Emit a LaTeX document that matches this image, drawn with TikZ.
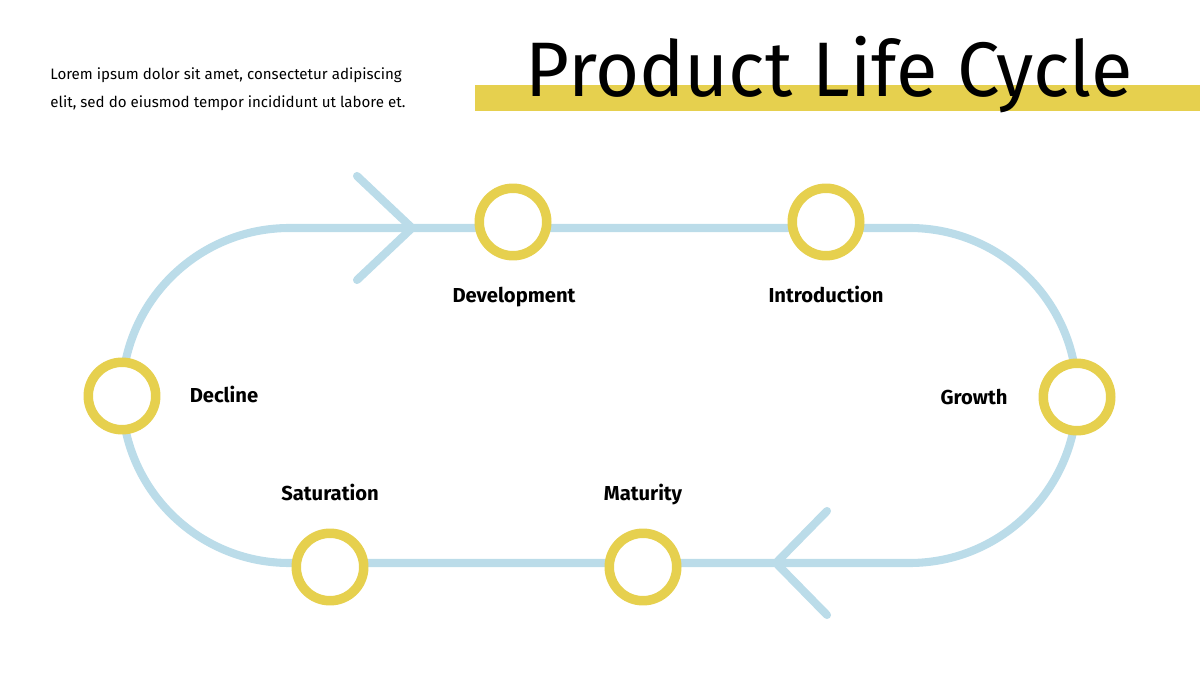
\documentclass[tikz,border=0pt]{standalone}
\usepackage{fontspec}
\usepackage{graphicx}
\setmainfont{Fira Sans}
\definecolor{track}{HTML}{BBDCE9}
\definecolor{ring}{HTML}{E6D04E}
\tikzset{
  trackline/.style={draw=track, line width=4.6pt, line cap=round, line join=round},
  ringnode/.style={circle, draw=ring, fill=white, line width=5.4pt, minimum size=1.35cm, inner sep=0pt},
  lbl/.style={font=\bfseries\fontsize{11.5}{13}\selectfont, text=black, inner sep=0pt, anchor=base},
}
\begin{document}
\begin{tikzpicture}[x=0.02cm, y=-0.02cm]
\useasboundingbox (0,0) rectangle (1200,675);
% title bar
\fill[ring] (475,85) rectangle (1200,111);
\node[anchor=base, inner sep=0pt] (title) at (829,97) {\scalebox{0.98}[1]{\fontsize{44}{50}\selectfont Product Life Cycle}};
% description
\node[anchor=base west, inner sep=0pt, font=\fontsize{8.6}{10}\selectfont] (desc1) at (50,80) {Lorem ipsum dolor sit amet, consectetur adipiscing};
\node[anchor=base west, inner sep=0pt, font=\fontsize{8.6}{10}\selectfont] (desc2) at (50,108) {elit, sed do eiusmod tempor incididunt ut labore et.};
% track
\draw[trackline, rounded corners=3.35cm] (122,228) rectangle (1077,563);
% arrow chevrons
\coordinate (a1) at (357,176); \coordinate (a2) at (412,228); \coordinate (a3) at (357,280);
\draw[trackline] (a1) -- (a2) -- (a3);
\coordinate (b1) at (827,511); \coordinate (b2) at (776,563); \coordinate (b3) at (827,615);
\draw[trackline] (b1) -- (b2) -- (b3);
% rings
\node[ringnode] (dev) at (513,222) {};
\node[ringnode] (intro) at (826,222) {};
\node[ringnode] (growth) at (1077,397) {};
\node[ringnode] (mat) at (643,567) {};
\node[ringnode] (sat) at (330,567) {};
\node[ringnode] (dec) at (122,396) {};
% labels
\node[lbl] (ldev) at (514,303) {Development};
\node[lbl] (lintro) at (826,303) {Introduction};
\node[lbl] (lgrowth) at (974,404) {Growth};
\node[lbl] (lmat) at (643,500) {Maturity};
\node[lbl] (lsat) at (330,500) {Saturation};
\node[lbl] (ldec) at (224,402) {Decline};
\end{tikzpicture}
\end{document}
